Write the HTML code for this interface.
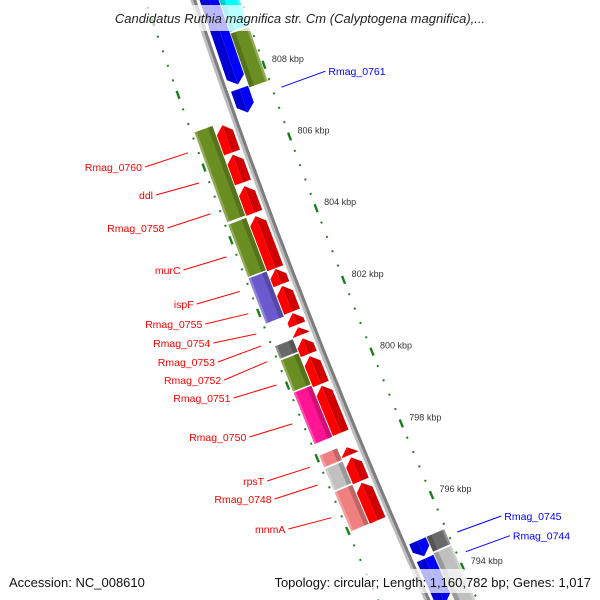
<!DOCTYPE html>
<html><head><meta charset="utf-8"><style>
html,body{margin:0;padding:0;background:#fff;width:600px;height:600px;overflow:hidden;}
svg{display:block;font-family:"Liberation Sans",sans-serif;overflow:hidden;}
</style></head><body>
<svg id="map" width="600" height="600" viewBox="0 0 600 600" xmlns="http://www.w3.org/2000/svg">
<g id="rings"></g>
<g id="backbone"></g>
<g id="features"></g>
<g id="labels"></g>
<rect x="74" y="5" width="452" height="26" fill="#fff" fill-opacity="0.72"/>
<text x="300" y="23" text-anchor="middle" font-size="13" font-style="italic" fill="#222">Candidatus Ruthia magnifica str. Cm (Calyptogena magnifica),...</text>
<rect x="0" y="569" width="600" height="24" fill="#fff" fill-opacity="0.72"/>
<text x="9" y="587" font-size="13" fill="#111">Accession: NC_008610</text>
<text x="591" y="587" text-anchor="end" font-size="13" fill="#111">Topology: circular; Length: 1,160,782 bp; Genes: 1,017</text>
</svg>
<script>
// ---- data (kbp) ----
const tickKbp = [810, 808, 806, 804, 802, 800, 798, 796, 794, 792];
const tickLabels = ["810 kbp","808 kbp","806 kbp","804 kbp","802 kbp","800 kbp","798 kbp","796 kbp","794 kbp","792 kbp"];
const leftGeneHi = [806.89, 806.08, 805.21, 804.38, 802.92, 802.45, 801.70, 801.31, 801.00, 800.51, 799.69, 797.99, 797.71, 797.01, 793.70];
const leftGeneLo = [806.10, 805.27, 804.43, 802.90, 802.46, 801.70, 801.34, 801.06, 800.53, 799.70, 798.35, 797.74, 797.02, 795.93, 792.50];
const leftCdsHi = [806.96, 804.42, 802.94, 801.07, 800.68, 799.79, 798.06, 797.69, 797.05];
const leftCdsLo = [804.45, 802.94, 801.66, 800.69, 799.79, 798.34, 797.70, 797.06, 795.94];
const leftCdsColor = ["#6b8e23","#6b8e23","#6a5acd","#696969","#6b8e23","#ff1493","#f08080","#c0c0c0","#f08080"];
const rightGeneHi = [811.00, 807.64, 795.09, 794.60];
const rightGeneLo = [807.72, 806.94, 794.62, 793.30];
const rightCdsHi = [811.00, 809.08, 795.09, 794.63];
const rightCdsLo = [809.09, 807.55, 794.64, 792.60];
const rightCdsColor = ["#00ffff","#6b8e23","#696969","#c0c0c0"];
const leftLabelNames = ["Rmag_0760","ddl","Rmag_0758","murC","ispF","Rmag_0755","Rmag_0754","Rmag_0753","Rmag_0752","Rmag_0751","Rmag_0750","rpsT","Rmag_0748","mnmA"];
const leftLabelKbp = [806.50, 805.67, 804.82, 803.64, 802.69, 802.08, 801.52, 801.19, 800.76, 800.12, 799.05, 797.86, 797.37, 796.47];
const leftLabelBaseline = [171, 199, 232, 274, 308, 328, 347, 366, 384, 402, 441, 485, 503, 533];
const rightLabelNames = ["Rmag_0761","Rmag_0745","Rmag_0744"];
const rightLabelKbp = [807.29, 794.87, 794.32];

// ---- geometry ----
const NS="http://www.w3.org/2000/svg";
const kRef=808, yRef=80, pxPerK=36.1;
function bx(y){return 193+0.3367*y+8.9e-5*y*y;}
function P(k,off){
  const yb=yRef+(kRef-k)*pxPerK;
  const t=0.3367+1.78e-4*yb, L=Math.sqrt(1+t*t);
  return [bx(yb)+off/L, yb-off*t/L];
}
function poly(parent,pts,fill,name){
  const p=document.createElementNS(NS,'polygon');
  p.setAttribute('points',pts.map(q=>q[0].toFixed(1)+','+q[1].toFixed(1)).join(' '));
  p.setAttribute('fill',fill);
  
  
  parent.appendChild(p);return p;
}
function line(parent,a,b,color,w,name){
  const l=document.createElementNS(NS,'line');
  l.setAttribute('x1',a[0]);l.setAttribute('y1',a[1]);l.setAttribute('x2',b[0]);l.setAttribute('y2',b[1]);
  l.setAttribute('stroke',color);l.setAttribute('stroke-width',w);
  
  
  parent.appendChild(l);return l;
}
function txt(parent,x,y,s,size,color,anchor,name){
  const t=document.createElementNS(NS,'text');
  t.setAttribute('x',x);t.setAttribute('y',y);t.setAttribute('font-size',size);
  t.setAttribute('fill',color);t.setAttribute('text-anchor',anchor);t.textContent=s;
  
  
  parent.appendChild(t);return t;
}
function shade(hex,f){
  const n=parseInt(hex.slice(1),16);let r=n>>16,g=(n>>8)&255,b=n&255;
  r=Math.round(r*f);g=Math.round(g*f);b=Math.round(b*f);
  return 'rgb('+r+','+g+','+b+')';
}
function lighten(hex,f){
  const n=parseInt(hex.slice(1),16);let r=n>>16,g=(n>>8)&255,b=n&255;
  r=Math.round(r+(255-r)*f);g=Math.round(g+(255-g)*f);b=Math.round(b+(255-b)*f);
  return 'rgb('+r+','+g+','+b+')';
}

// rings
const rings=document.getElementById('rings');
[-45,46].forEach(function(off){
  for(let i=Math.round(792/0.4);i<=Math.round(811/0.4);i++){
    const k=i*0.4;
    const major=Math.abs(k/2-Math.round(k/2))<1e-6;
    const h=major?0.11:0.025;
    line(rings,P(k+h,off),P(k-h,off),'#1a7f1a',major?2.4:2,major?'major-tick':'minor-tick');
  }
});
tickKbp.forEach(function(k,i){
  const p=P(k,46);
  txt(rings,(p[0]+8).toFixed(1),(p[1]-3).toFixed(1),tickLabels[i],9,'#333','start','tick-label');
});

// backbone
const bb=document.getElementById('backbone');
function stroke(off,color,w,name){
  const pts=[];for(let k=812.5;k>=791.5;k-=0.25){pts.push(P(k,off));}
  const pl=document.createElementNS(NS,'polyline');
  pl.setAttribute('points',pts.map(q=>q[0].toFixed(1)+','+q[1].toFixed(1)).join(' '));
  pl.setAttribute('fill','none');pl.setAttribute('stroke',color);pl.setAttribute('stroke-width',w);
  
  
  bb.appendChild(pl);
}
stroke(-1.2,'#bdbdbd',3,'backbone-light');
stroke(1.6,'#7d7d7d',3,'backbone-dark');

// features
const fg=document.getElementById('features');
const headK=0.2;
function arrow(hi,lo,oOut,oIn,color,up,name){
  const len=hi-lo, h=Math.min(headK,len*0.9);
  const mid=(oOut+oIn)/2;
  let outer,inner;
  if(up){
    outer=[P(lo,oOut),P(hi-h,oOut),P(hi,mid),P(lo,mid)];
    inner=[P(lo,mid),P(hi,mid),P(hi-h,oIn),P(lo,oIn)];
  }else{
    outer=[P(hi,oOut),P(lo+h,oOut),P(lo,mid),P(hi,mid)];
    inner=[P(hi,mid),P(lo,mid),P(lo+h,oIn),P(hi,oIn)];
  }
  poly(fg,outer,color,name);
  poly(fg,inner,shade(color,0.82),name+'-shade');
}
function box(hi,lo,oA,oB,color,name){
  poly(fg,[P(hi,oA),P(lo,oA),P(lo,oB),P(hi,oB)],color,name);
  const dOff=oB+(oA-oB)*0.25;
  poly(fg,[P(hi,oB),P(lo,oB),P(lo,dOff),P(hi,dOff)],shade(color,0.8),name+'-shade');
  const lOff=oA+(oB-oA)*0.12;
  poly(fg,[P(hi,oA),P(lo,oA),P(lo,lOff),P(hi,lOff)],lighten(color,0.25),name+'-highlight');
}
const gap=0.02;
leftGeneHi.forEach(function(hi,i){arrow(hi-gap,leftGeneLo[i]+gap,-22,-5,'#ff0000',true,'gene-arrow-left');});
leftCdsHi.forEach(function(hi,i){box(hi-gap,leftCdsLo[i]+gap,-42,-23,leftCdsColor[i],'cds-box-left');});
rightGeneHi.forEach(function(hi,i){arrow(hi-gap,rightGeneLo[i]+gap,24,6,'#0000ff',false,'gene-arrow-right');});
rightCdsHi.forEach(function(hi,i){box(hi-gap,rightCdsLo[i]+gap,44,25,rightCdsColor[i],'cds-box-right');});

// labels
const lg=document.getElementById('labels');
leftLabelNames.forEach(function(nm,i){
  const e=P(leftLabelKbp[i],-55), by=leftLabelBaseline[i], s=[e[0]-43,by-4];
  line(lg,[s[0].toFixed(1),s[1].toFixed(1)],[e[0].toFixed(1),e[1].toFixed(1)],'#ff0000',1,'label-leader');
  txt(lg,(s[0]-3).toFixed(1),by,nm,10.5,'#ff0000','end','gene-label');
});
rightLabelNames.forEach(function(nm,i){
  const s=P(rightLabelKbp[i],55), e=[s[0]+44,s[1]-16];
  line(lg,[s[0].toFixed(1),s[1].toFixed(1)],[e[0].toFixed(1),e[1].toFixed(1)],'#0000ff',1,'label-leader');
  txt(lg,(e[0]+3).toFixed(1),(e[1]+4).toFixed(1),nm,10.5,'#0000ff','start','gene-label');
});
</script>
</body></html>
